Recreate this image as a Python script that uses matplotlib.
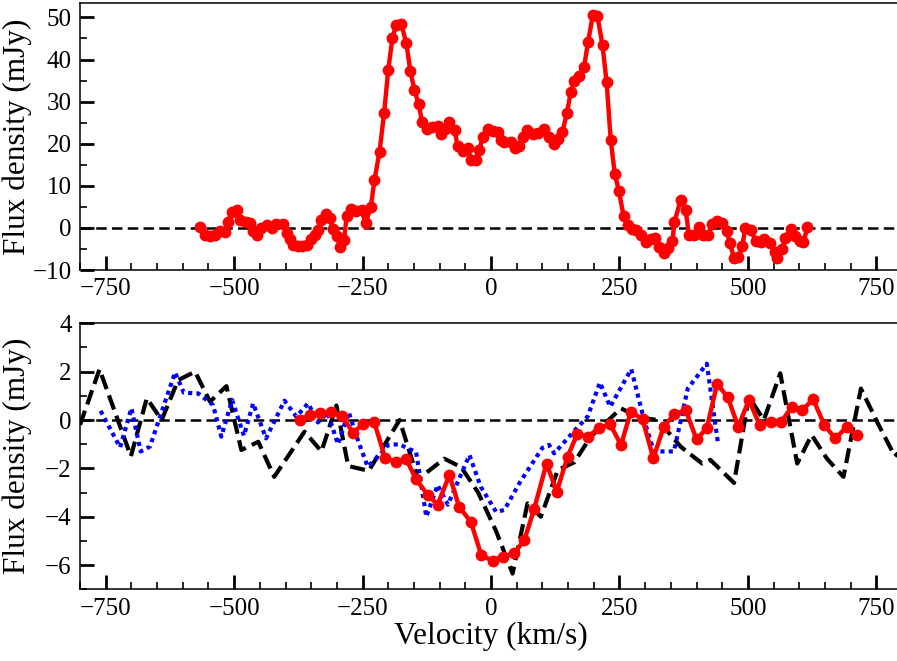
import matplotlib.pyplot as plt
from matplotlib.ticker import MultipleLocator

# top panel: red spectrum (velocity in km/s, flux in mJy)
top_vel = [-567, -557, -547, -538, -528, -518, -512, -505, -495, -489,
           -477, -470, -463, -455, -447, -437, -427, -418, -405, -398,
           -391, -385, -376, -367, -359, -351, -343, -337, -330, -321,
           -314, -308, -300, -293, -286, -281, -272, -262, -252, -244,
           -234, -227, -217, -208, -200, -192, -185, -175, -165, -157,
           -149, -141, -134, -124, -115, -104, -97, -89, -81, -71,
           -65, -55, -45, -39, -29, -23, -16, -6, 3, 13,
           19, 26, 39, 47, 55, 62, 71, 81, 92, 104,
           113, 122, 131, 139, 148, 155, 162, 172, 181, 189,
           198, 207, 217, 225, 233, 241, 249, 258, 266, 274,
           282, 291, 301, 311, 319, 327, 336, 344, 353, 357,
           369, 379, 385, 395, 405, 413, 422, 431, 440, 450,
           459, 465, 473, 481, 489, 495, 506, 515, 525, 532,
           543, 552, 557, 567, 573, 583, 591, 602, 608, 616]
top_flux = [0.2, -1.8, -2.0, -1.8, -0.8, -1.0, 1.4, 3.7, 4.2, 2.0,
            1.4, 1.2, -0.8, -1.6, 0.0, 0.6, 0.0, 1.0, 1.0, -1.2,
            -2.6, -4.0, -4.4, -4.4, -4.0, -2.6, -1.8, -0.4, 2.0, 3.4,
            2.4, -0.2, -2.0, -4.6, -2.8, 2.8, 4.4, 4.0, 4.2, 1.2,
            4.9, 11.3, 18.1, 27.4, 37.6, 45.0, 48.1, 48.5, 44.0, 37.2,
            32.8, 29.4, 25.1, 23.5, 24.0, 24.3, 22.4, 23.6, 25.2, 23.2,
            19.5, 18.3, 18.9, 16.1, 16.1, 18.5, 21.6, 23.5, 23.0, 22.7,
            21.0, 20.3, 20.4, 18.9, 19.5, 21.5, 23.2, 22.3, 22.5, 23.6,
            21.5, 19.9, 21.1, 22.8, 27.4, 32.2, 34.8, 36.2, 38.2, 44.2,
            50.5, 50.4, 43.4, 34.6, 20.9, 12.7, 8.8, 2.8, 0.8, -0.2,
            -0.6, -1.8, -3.4, -2.6, -2.4, -4.5, -5.9, -4.8, -3.2, 1.4,
            6.6, 4.2, -1.6, -1.8, 0.2, -1.8, -1.6, 1.0, 1.6, 1.2,
            -0.8, -3.6, -7.2, -7.0, -4.4, 0.0, -0.4, -3.2, -3.4, -2.6,
            -3.6, -5.8, -7.2, -5.0, -2.4, -0.2, -2.0, -3.2, -3.4, 0.2]

# bottom panel: red (markers), blue dotted, black dashed
red_vel = [-372, -353, -332, -311, -290, -269, -249, -227, -206, -185,
           -165, -146, -123, -104, -81, -62, -39, -19, 3, 23,
           45, 65, 84, 108, 128, 149, 168, 189, 210, 232,
           253, 272, 295, 316, 336, 357, 379, 400, 420, 440,
           461, 481, 502, 523, 544, 565, 586, 606, 627, 649,
           670, 692, 712]
red_flux = [0.0, 0.21, 0.28, 0.34, 0.17, -0.52, -0.18, -0.1, -1.59, -1.72,
            -1.62, -2.45, -3.1, -3.5, -2.28, -3.59, -4.22, -5.59, -5.82, -5.65,
            -5.52, -4.96, -3.68, -1.8, -2.96, -1.52, -0.57, -0.69, -0.32, -0.18,
            -1.03, 0.34, 0.03, -1.59, -0.28, 0.24, 0.41, -0.8, -0.34, 1.49,
            0.94, -0.28, 0.83, -0.21, -0.07, -0.07, 0.55, 0.41, 0.86, -0.21,
            -0.76, -0.3, -0.62]

blue_vel = [-760, -722, -700, -682, -664, -615, -598, -570, -541, -525,
            -504, -481, -463, -438, -402, -379, -356, -337, -318, -298,
            -277, -258, -240, -214, -200, -178, -160, -146, -126, -104,
            -84, -42, -20, 10, 26, 57, 100, 113, 123, 162,
            188, 212, 232, 273, 298, 317, 356, 383, 420, 442]
blue_flux = [0.38, -1.13, 0.49, -1.3, -1.1, 1.97, 1.13, 1.1, 0.62, -0.69,
             0.83, -0.65, 0.69, -0.76, 0.8, 0.14, 0.69, -0.1, 0.3, -1.0,
             0.32, -0.9, -1.93, -1.38, -1.03, -1.0, -1.2, -1.31, -4.0, -2.69,
             -3.5, -1.45, -2.76, -3.8, -3.72, -2.55, -1.15, -1.03, -1.38, -0.45,
             0.14, 1.55, 0.55, 2.1, 0.0, -1.3, -1.3, 1.3, 2.33, -1.0]

black_vel = [-800, -762, -701, -670, -641, -609, -576, -547, -515, -486,
             -453, -422, -363, -330, -301, -278, -238, -178, -142, -91,
             -58, -25, 10, 42, 71, 97, 130, 162, 194, 253,
             290, 325, 369, 411, 427, 473, 502, 531, 563, 596,
             624, 654, 686, 720, 752, 786, 820]
black_flux = [-0.2, 2.1, -1.5, 0.9, 0.0, 1.65, 2.0, 0.76, 1.4, -1.24,
              -0.9, -2.35, -0.48, -1.3, 0.6, -1.9, -2.1, 0.0, -2.45, -1.6,
              -1.95, -3.0, -4.6, -6.35, -3.45, -4.0, -2.07, -1.75, -0.69, 0.48,
              0.1, 0.0, -1.1, -1.8, -1.65, -2.6, 0.96, 0.0, 1.93, -1.8,
              -0.62, -1.6, -2.35, 1.3, -0.1, -1.5, -0.8]

plt.rcParams['font.family'] = ['Liberation Serif', 'DejaVu Serif']
plt.rcParams['axes.linewidth'] = 1.1

fig = plt.figure(figsize=(8.97, 6.61), dpi=100)
ax1 = fig.add_axes([0.0892, 0.5915, 0.9164, 0.4044])
ax2 = fig.add_axes([0.0892, 0.1085, 0.9164, 0.4024])

ax1.plot(top_vel, top_flux, color='red', lw=3.2, marker='o', ms=7.5)
ax1.set_ylim(-10, 53.5)
ax1.yaxis.set_major_locator(MultipleLocator(10))
ax1.yaxis.set_minor_locator(MultipleLocator(5))

ax2.plot(black_vel, black_flux, color='black', lw=3.0, ls=(0, (3.6, 1.6)))
ax2.plot(blue_vel, blue_flux, color='blue', lw=3.0, ls=(0, (1, 1.0)))
ax2.plot(red_vel, red_flux, color='red', lw=3.2, marker='o', ms=7.5)
ax2.set_ylim(-7, 4)
ax2.yaxis.set_major_locator(MultipleLocator(2))
ax2.yaxis.set_minor_locator(MultipleLocator(1))
ax2.set_xlabel('Velocity (km/s)', fontsize=22.5, labelpad=2)

for ax in (ax1, ax2):
    ax.axhline(0, color='black', lw=1.8, ls=(0, (4.2, 2.1)), zorder=1)
    ax.set_xlim(-800, 800)
    ax.xaxis.set_major_locator(MultipleLocator(250))
    ax.xaxis.set_minor_locator(MultipleLocator(50))
    ax.tick_params(which='major', direction='in', length=10, width=2,
                   labelsize=18, pad=6)
    ax.tick_params(which='minor', direction='in', length=5, width=1.2)
    ax.set_ylabel('Flux density (mJy)', fontsize=22.5)
    ax.yaxis.set_label_coords(-0.058, 0.5)

fig.savefig('out.png', dpi=100)
